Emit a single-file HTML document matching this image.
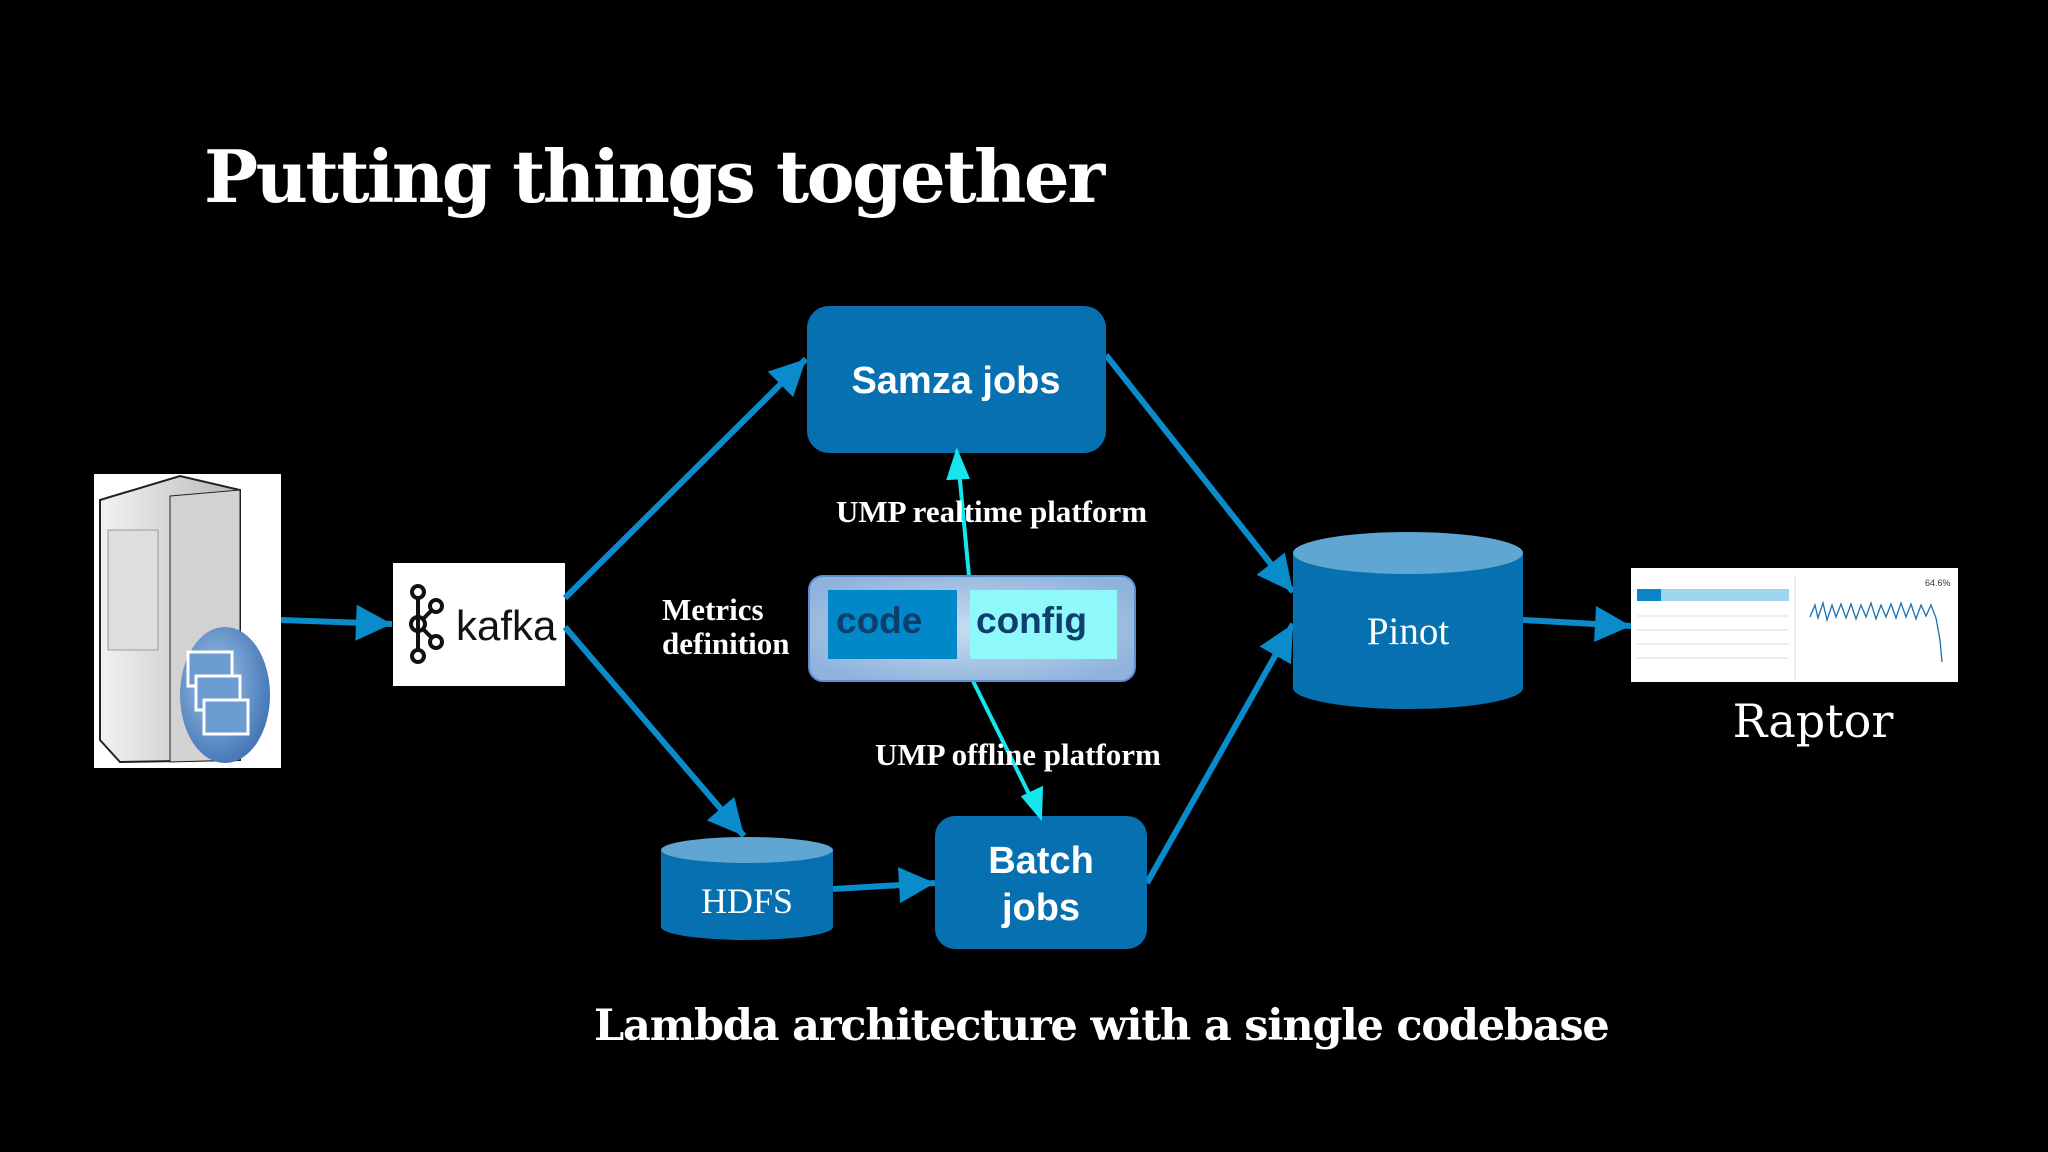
<!DOCTYPE html>
<html><head><meta charset="utf-8"><style>
html,body{margin:0;padding:0;background:#000;}
svg{display:block}
.t{font-family:"DejaVu Serif","Liberation Serif",serif;font-weight:bold;fill:#fff}
.s{font-family:"Liberation Serif",serif;fill:#fff}
.a{font-family:"Liberation Sans",sans-serif;font-weight:bold}
</style></head><body>
<svg width="2048" height="1152" viewBox="0 0 2048 1152" xmlns="http://www.w3.org/2000/svg">
<defs>
<marker id="ab" viewBox="0 0 10 10" refX="10" refY="5" markerWidth="44" markerHeight="36" orient="auto" markerUnits="userSpaceOnUse">
<path d="M0,0 L10,5 L0,10 z" fill="#0a8ccc"/>
</marker>
<linearGradient id="srv" x1="0" x2="1"><stop offset="0" stop-color="#f2f2f2"/><stop offset="1" stop-color="#b8b8b8"/></linearGradient>
<radialGradient id="gl" cx="0.5" cy="0.5" r="0.6"><stop offset="0" stop-color="#c8dcf0"/><stop offset="1" stop-color="#8fb2dc"/></radialGradient>
<radialGradient id="orb" cx="0.4" cy="0.4" r="0.7"><stop offset="0" stop-color="#9ec2e8"/><stop offset="1" stop-color="#3a6eb0"/></radialGradient>
</defs>

<text x="204" y="202" class="t" font-size="72" letter-spacing="-2.5">Putting things together</text>

<!-- server -->
<rect x="94" y="474" width="187" height="294" fill="#fff"/>
<path d="M100,500 L180,476 L240,490 L240,760 L120,762 L100,740 z" fill="url(#srv)" stroke="#222" stroke-width="2"/>
<path d="M170,496 L240,490 L240,760 L170,762 z" fill="#d2d2d2" stroke="#222" stroke-width="1"/>
<rect x="108" y="530" width="50" height="120" fill="#dedede" stroke="#999"/>
<ellipse cx="225" cy="695" rx="45" ry="68" fill="url(#orb)"/>
<rect x="188" y="652" width="44" height="34" fill="#6b9bd0" stroke="#fff" stroke-width="3"/>
<rect x="196" y="676" width="44" height="34" fill="#6b9bd0" stroke="#fff" stroke-width="3"/>
<rect x="204" y="700" width="44" height="34" fill="#6b9bd0" stroke="#fff" stroke-width="3"/>

<!-- kafka -->
<rect x="393" y="563" width="172" height="123" fill="#fff"/>
<g stroke="#111" stroke-width="4" fill="none">
<circle cx="418" cy="592" r="6"/><circle cx="418" cy="624" r="7"/><circle cx="418" cy="656" r="6"/>
<circle cx="436" cy="606" r="6"/><circle cx="436" cy="642" r="6"/>
<line x1="418" y1="598" x2="418" y2="650"/>
<line x1="422" y1="620" x2="432" y2="610"/><line x1="422" y1="628" x2="432" y2="638"/>
</g>
<text x="456" y="640" font-family="Liberation Sans,sans-serif" font-size="42" fill="#111">kafka</text>

<!-- arrows blue -->
<g stroke="#0a8ccc" stroke-width="6" fill="none" marker-end="url(#ab)">
<line x1="281" y1="620" x2="392" y2="624"/>
<line x1="565" y1="598" x2="806" y2="359"/>
<line x1="565" y1="627" x2="744" y2="836"/>
<line x1="833" y1="889" x2="935" y2="883"/>
<line x1="1106" y1="355" x2="1293" y2="592"/>
<line x1="1147" y1="883" x2="1293" y2="624"/>
<line x1="1523" y1="620" x2="1631" y2="626"/>
</g>

<!-- samza -->
<rect x="807" y="306" width="299" height="147" rx="22" fill="#0670b0"/>
<text x="956" y="393" text-anchor="middle" class="a" font-size="38" fill="#fff">Samza jobs</text>

<!-- batch -->
<rect x="935" y="816" width="212" height="133" rx="20" fill="#0670b0"/>
<text x="1041" y="873" text-anchor="middle" class="a" font-size="38" fill="#fff">Batch</text>
<text x="1041" y="920" text-anchor="middle" class="a" font-size="38" fill="#fff">jobs</text>

<!-- cyan arrows -->
<g stroke="#15e6ee" stroke-width="4" fill="#15e6ee">
<line x1="969" y1="576" x2="959" y2="470"/>
<path d="M957,453 L949,478 L967,477 z"/>
<line x1="972" y1="679" x2="1032" y2="800"/>
<path d="M1040,816 L1024,797 L1041,789 z"/>
</g>

<!-- code config -->
<rect x="809" y="576" width="326" height="105" rx="14" fill="url(#gl)" stroke="#5d8fcc" stroke-width="2"/>
<rect x="828" y="590" width="129" height="69" fill="#0088c8"/>
<rect x="970" y="590" width="147" height="69" fill="#8ff8fa"/>
<text x="836" y="633" class="a" font-size="37" fill="#0d3e6c">code</text>
<text x="976" y="633" class="a" font-size="37" fill="#0d3e6c">config</text>

<text x="836" y="522" class="s" font-size="31" font-weight="bold">UMP realtime platform</text>
<text x="662" y="620" class="s" font-size="31" font-weight="bold">Metrics</text>
<text x="662" y="654" class="s" font-size="31" font-weight="bold">definition</text>
<text x="875" y="765" class="s" font-size="31" font-weight="bold">UMP offline platform</text>

<!-- HDFS -->
<path d="M661,850 L661,927 A86,13 0 0 0 833,927 L833,850 z" fill="#0670b0"/>
<ellipse cx="747" cy="850" rx="86" ry="13" fill="#5fa6d2"/>
<text x="747" y="913" text-anchor="middle" class="s" font-size="36">HDFS</text>

<!-- Pinot -->
<path d="M1293,553 L1293,688 A115,21 0 0 0 1523,688 L1523,553 z" fill="#0670b0"/>
<ellipse cx="1408" cy="553" rx="115" ry="21" fill="#5fa6d2"/>
<text x="1408" y="644" text-anchor="middle" class="s" font-size="39">Pinot</text>

<!-- raptor screenshot -->
<rect x="1631" y="568" width="327" height="114" fill="#fff"/>
<rect x="1637" y="589" width="152" height="12" fill="#9ed6f0"/>
<rect x="1637" y="589" width="24" height="12" fill="#0a86c8"/>
<g stroke="#ddd" stroke-width="1"><line x1="1637" y1="616" x2="1789" y2="616"/><line x1="1637" y1="630" x2="1789" y2="630"/><line x1="1637" y1="644" x2="1789" y2="644"/><line x1="1637" y1="658" x2="1789" y2="658"/><line x1="1795" y1="575" x2="1795" y2="680"/></g>
<polyline points="1810,617 1815,605 1818,618 1823,603 1827,620 1832,605 1836,617 1841,604 1846,618 1851,604 1856,619 1861,605 1866,617 1871,603 1876,619 1881,605 1886,617 1891,604 1896,618 1901,603 1906,617 1911,604 1916,619 1921,605 1926,616 1931,605 1936,618 1940,640 1942,662" fill="none" stroke="#1a70b0" stroke-width="1.3"/>
<text x="1925" y="586" font-family="Liberation Sans,sans-serif" font-size="9" fill="#333">64.6%</text>
<text x="1813" y="737" text-anchor="middle" font-family="DejaVu Serif,serif" font-size="46" fill="#fff">Raptor</text>

<text x="594" y="1040" class="t" font-size="43" letter-spacing="-1.2">Lambda architecture with a single codebase</text>
</svg>
</body></html>
